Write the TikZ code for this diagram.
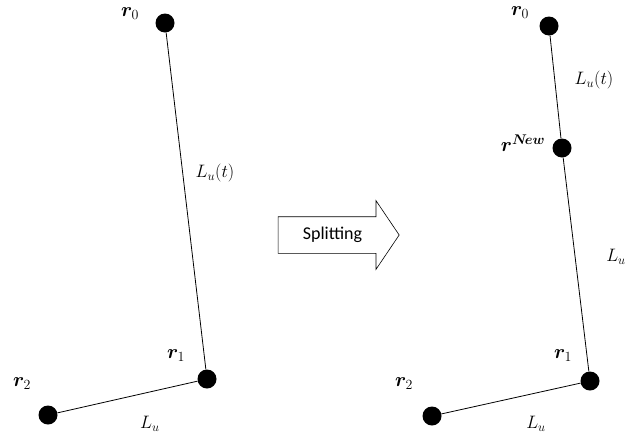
\RequirePackage{fix-cm}
\documentclass[tikz,border=0pt]{standalone}
\usepackage{amsmath,amssymb,bm}
\usepackage{fontspec}
\newfontfamily\calfont{Carlito}
\usepackage{tikz}
\usetikzlibrary{arrows.meta,shapes.arrows}

\begin{document}
\begin{tikzpicture}[x=1pt, y=-1pt, font=\fontsize{18}{20}\selectfont,
  pt/.style={circle, fill=black, inner sep=0pt, minimum size=19pt},
  lab/.style={inner sep=1pt},
  vlab/.style={inner sep=1pt, font=\fontsize{20}{22}\selectfont},
  seg/.style={line width=0.8pt},
  splitarrow/.style={draw, line width=0.6pt, single arrow, single arrow head extend=16pt,
    single arrow tip angle=112, minimum height=121pt, minimum width=68pt,
    text height=12pt, text depth=4pt, inner ysep=10pt, inner xsep=2pt,
    font=\calfont\fontsize{18}{20}\selectfont}]
\useasboundingbox (0,0) rectangle (628,437);
% before
\node[pt] (l0) at (165,23) {};
\node[pt] (l1) at (207,379) {};
\node[pt] (l2) at (48,415) {};
\node[vlab] (l0t) at (130,14) {$\bm{r}_0$};
\node[vlab] (l1t) at (176,356) {$\bm{r}_1$};
\node[vlab] (l2t) at (22,384) {$\bm{r}_2$};
\draw[seg] (l0) -- (l1);
\draw[seg] (l1) -- (l2);
\node[lab] (lut) at (215,173) {$L_u(t)$};
\node[lab] (lu) at (150,424) {$L_u$};
% arrow
\node[splitarrow] (split) at (332.5,235) {Splitting\hspace{22pt}};
% after
\node[pt] (r0) at (549,26) {};
\node[pt] (rn) at (562,148) {};
\node[pt] (r1) at (590,381) {};
\node[pt] (r2) at (432,416) {};
\node[vlab] (r0t) at (520,13) {$\bm{r}_0$};
\node[vlab] (rnt) at (523,143) {$\bm{r}^{\bm{N\!ew}}$};
\node[vlab] (r1t) at (563,356) {$\bm{r}_1$};
\node[vlab] (r2t) at (404,384) {$\bm{r}_2$};
\draw[seg] (r0) -- (rn);
\draw[seg] (rn) -- (r1);
\draw[seg] (r1) -- (r2);
\node[lab] (rut) at (594,80) {$L_u(t)$};
\node[lab] (ru1) at (616,257) {$L_u$};
\node[lab] (ru2) at (536,424) {$L_u$};
\end{tikzpicture}
\end{document}
